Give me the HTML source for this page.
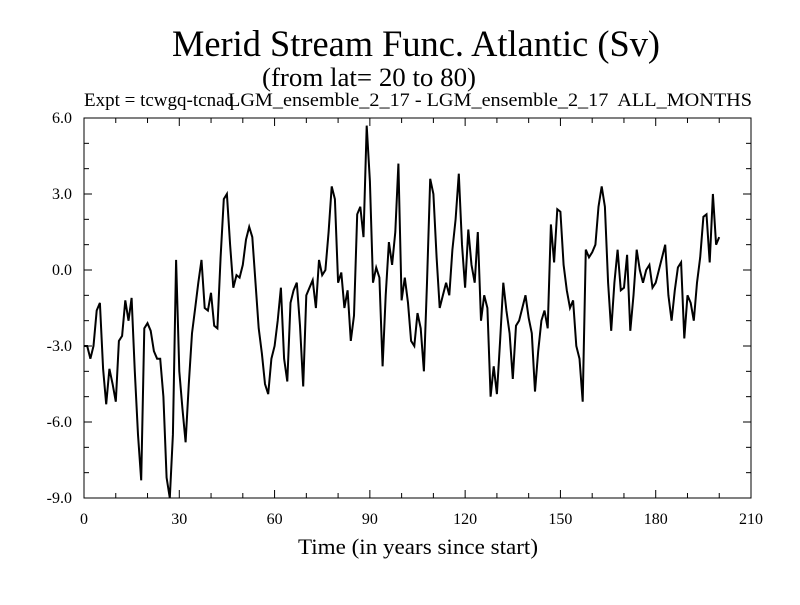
<!DOCTYPE html>
<html><head><meta charset="utf-8"><style>
body{margin:0;background:#fff}
svg text{font-family:"Liberation Serif",serif;fill:#000}
</style></head><body>
<svg id="chart" width="800" height="600">
<text x="416" y="56" font-size="37" text-anchor="middle" textLength="488" lengthAdjust="spacingAndGlyphs">Merid Stream Func. Atlantic (Sv)</text>
<text x="369" y="86" font-size="26" text-anchor="middle" textLength="214" lengthAdjust="spacingAndGlyphs">(from lat= 20 to 80)</text>
<text x="84" y="106" font-size="19">Expt = tcwgq-tcnaq</text>
<text x="228" y="106" font-size="19" textLength="524" lengthAdjust="spacingAndGlyphs" xml:space="preserve">LGM_ensemble_2_17 - LGM_ensemble_2_17  ALL_MONTHS</text>
<rect x="84" y="118" width="667" height="380" fill="none" stroke="#000" stroke-width="1"/>
<g id="ticks"></g>
<path id="series" fill="none" stroke="#000" stroke-width="2"/>
<text x="418" y="554" font-size="22" text-anchor="middle" textLength="240" lengthAdjust="spacingAndGlyphs">Time (in years since start)</text>
</svg>
<script>
const xTicks=[0,30,60,90,120,150,180,210];
const yTicks=[6,3,0,-3,-6,-9];
const yTickLabels=["6.0","3.0","0.0","-3.0","-6.0","-9.0"];
const values=[-3.0,-3.0,-3.5,-3.0,-1.6,-1.3,-3.9,-5.3,-3.9,-4.5,-5.2,-2.8,-2.6,-1.2,-2.0,-1.1,-4.0,-6.5,-8.3,-2.3,
-2.1,-2.4,-3.2,-3.5,-3.5,-5.0,-8.2,-9.0,-6.5,0.4,-4.0,-5.5,-6.8,-4.5,-2.5,-1.5,-0.5,0.4,-1.5,-1.6,
-0.9,-2.2,-2.3,0.5,2.8,3.0,1.0,-0.7,-0.2,-0.3,0.2,1.2,1.7,1.3,-0.5,-2.3,-3.3,-4.5,-4.9,-3.5,
-3.0,-2.0,-0.7,-3.5,-4.4,-1.3,-0.8,-0.5,-2.2,-4.6,-1.0,-0.7,-0.4,-1.5,0.4,-0.2,0.0,1.5,3.3,2.8,
-0.5,-0.1,-1.5,-0.8,-2.8,-1.8,2.2,2.5,1.3,5.7,3.5,-0.5,0.1,-0.3,-3.8,-1.0,1.1,0.2,1.5,4.2,
-1.2,-0.3,-1.3,-2.8,-3.0,-1.7,-2.3,-4.0,-0.5,3.6,3.0,0.5,-1.5,-1.0,-0.5,-1.0,0.8,2.0,3.8,1.0,
-0.7,1.6,0.2,-0.5,1.5,-2.0,-1.0,-1.5,-5.0,-3.8,-4.9,-2.8,-0.5,-1.6,-2.5,-4.3,-2.2,-2.0,-1.5,-1.0,
-1.9,-2.5,-4.8,-3.2,-2.0,-1.6,-2.3,1.8,0.3,2.4,2.3,0.2,-0.8,-1.5,-1.2,-3.0,-3.5,-5.2,0.8,0.5,
0.7,1.0,2.5,3.3,2.5,-0.5,-2.4,-0.5,0.8,-0.8,-0.7,0.6,-2.4,-1.0,0.8,0.0,-0.5,0.0,0.2,-0.7,
-0.5,0.0,0.5,1.0,-1.0,-2.0,-0.8,0.1,0.3,-2.7,-1.0,-1.3,-2.0,-0.5,0.5,2.1,2.2,0.3,3.0,1.0,1.3];
const X0=84,X1=751,Y0=118,Y1=498;
const sx=v=>X0+(v-0)/(210-0)*(X1-X0);
const sy=v=>Y1-(v+9)/(6+9)*(Y1-Y0);
const NS="http://www.w3.org/2000/svg";
const g=document.getElementById('ticks');
function line(x1,y1,x2,y2,name){const l=document.createElementNS(NS,'line');
l.setAttribute('x1',x1);l.setAttribute('y1',y1);l.setAttribute('x2',x2);l.setAttribute('y2',y2);
l.setAttribute('stroke','#000');


g.appendChild(l);}
for(let t=0;t<=210;t+=10){const x=sx(t);const len=t%30===0?8:5;line(x,Y1,x,Y1-len,'x-tick');line(x,Y0,x,Y0+len,'x-tick-top');}
for(let t=-9;t<=6;t++){const y=sy(t);const len=t%3===0?8:5;line(X0,y,X0+len,y,'y-tick');line(X1,y,X1-len,y,'y-tick-right');}
xTicks.forEach(t=>{const tx=document.createElementNS(NS,'text');tx.setAttribute('x',sx(t));tx.setAttribute('y',524);
tx.setAttribute('font-size','16');tx.setAttribute('text-anchor','middle');tx.textContent=t;


g.appendChild(tx);});
yTicks.forEach((t,i)=>{const tx=document.createElementNS(NS,'text');tx.setAttribute('x',72);tx.setAttribute('y',sy(t)+5);
tx.setAttribute('font-size','16');tx.setAttribute('text-anchor','end');tx.textContent=yTickLabels[i];


g.appendChild(tx);});
document.getElementById('series').setAttribute('d',values.map((v,i)=>(i?'L':'M')+sx(i).toFixed(1)+','+sy(v).toFixed(1)).join(''));
</script>
</body></html>
